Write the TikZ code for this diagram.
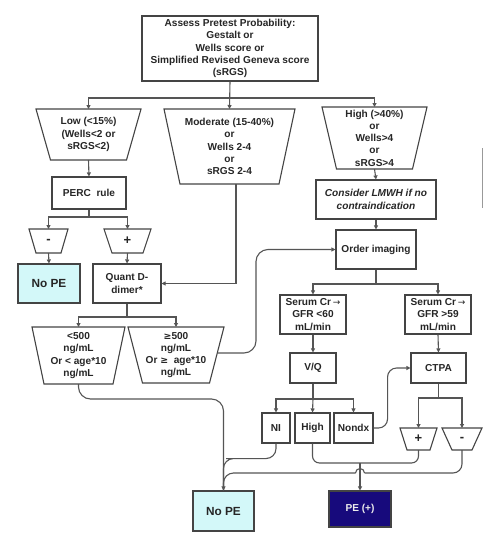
\documentclass[tikz,border=0pt]{standalone}
\usepackage{fontspec}
\setmainfont{Liberation Sans}
\usetikzlibrary{arrows.meta}
\definecolor{ln}{HTML}{555555}
\definecolor{bd}{HTML}{444444}
\definecolor{nopefill}{HTML}{D3F8F9}
\definecolor{pefill}{HTML}{170A7C}
\newcommand\trapz[7]{%
  \draw[bdline] ({#2-#4},#3) -- ({#2+#4},#3) -- ({#2+#5},#6) -- ({#2-#5},#6) -- cycle;
  \coordinate (#1-t) at (#2,#3);
  \coordinate (#1-b) at (#2,#6);
  \node[txt] (#1) at (#2,{(#3+#6)/2}) {#7};
}
\newcommand\mygeq{{\fontspec{DejaVu Sans}\bfseries\fontsize{9.4}{12.3}\selectfont ≥}}
\newcommand\sgn[1]{{\fontsize{13}{13}\selectfont\bfseries #1}}
\tikzset{
  txt/.style={font=\fontsize{10.1}{12.3}\selectfont\bfseries, align=center, text=black!85, inner sep=0pt},
  bdline/.style={draw=bd, line width=1.1pt},
  box/.style={txt, rectangle, draw=bd, line width=1.1pt, inner sep=1pt},
  conn/.style={draw=ln, line width=1.1pt},
  arr/.style={conn, -{Triangle[length=4pt,width=4pt]}},
  bigtxt/.style={font=\fontsize{11.8}{13}\selectfont\bfseries},
}
\begin{document}
\begin{tikzpicture}[x=1pt,y=-1pt]
\useasboundingbox (0,0) rectangle (500,541);
\fill[white] (0,0) rectangle (500,541);

% boxes
\node[box, minimum width=176pt, minimum height=65pt] (top) at (230,48.5)
  {Assess Pretest Probability:\\Gestalt or\\Wells score or\\Simplified Revised Geneva score\\(sRGS)};
\node[box, minimum width=120pt, minimum height=39pt] (lmwh) at (376,199.5)
  {\itshape Consider LMWH if no\\\itshape contraindication};
\node[box, minimum width=80pt, minimum height=39pt] (order) at (376,249.5) {Order imaging};
\node[box, minimum width=66pt, minimum height=39pt] (serL) at (313,314.5) {Serum Cr\,{\fontspec{DejaVu Sans}\mdseries\small →}\\GFR <60\\mL/min};
\node[box, minimum width=66pt, minimum height=39pt] (serR) at (438,314.5) {Serum Cr\,{\fontspec{DejaVu Sans}\mdseries\small →}\\GFR >59\\mL/min};
\node[box, minimum width=46pt, minimum height=30pt] (vq) at (313,368) {V/Q};
\node[box, minimum width=55pt, minimum height=30pt] (ctpa) at (438.5,368) {CTPA};
\node[box, minimum width=28pt, minimum height=30pt] (ni) at (276,428) {NI};
\node[box, minimum width=35pt, minimum height=30pt] (hi) at (312.5,428) {High};
\node[box, minimum width=39pt, minimum height=30pt] (nondx) at (353.5,428) {Nondx};
\node[box, minimum width=74pt, minimum height=32pt] (perc) at (89,193) {PERC\ \ rule};
\node[box, bigtxt, fill=nopefill, minimum width=62pt, minimum height=39pt] (nope1) at (49,283.5) {No PE};
\node[box, minimum width=68pt, minimum height=39pt] (quant) at (127,283.5) {Quant D-\\dimer*};
\node[box, bigtxt, fill=nopefill, minimum width=61pt, minimum height=40pt] (nope2) at (223.5,511) {No PE};
\node[box, fill=pefill, text=white!85!gray, minimum width=62pt, minimum height=36pt] (pe) at (360,509) {PE (+)};

% trapezoids
\trapz{low}{88.5}{109}{52.5}{38}{160}{Low (<15\%)\\(Wells<2 or\\sRGS<2)}
\trapz{mod}{229.5}{109}{65.5}{49.5}{184}{Moderate (15-40\%)\\or\\Wells 2-4\\or\\sRGS 2-4}
\trapz{high}{374.5}{107}{52.5}{38}{169}{High (>40\%)\\or\\Wells>4\\or\\sRGS>4}
\trapz{percm}{48.5}{229}{19.5}{12.5}{253}{\sgn{-}}
\trapz{percp}{127.5}{229}{23.5}{15.5}{253}{\sgn{+}}
\trapz{lt}{78.5}{327}{46.5}{34.5}{384}{<500\\ng/mL\\Or < age*10\\ng/mL}
\trapz{ge}{176}{327}{48}{33.5}{383}{\mygeq500\\ng/mL\\Or \mygeq\ \ age*10\\ng/mL}
\trapz{ctp}{418.5}{428}{18.5}{11.5}{450}{\sgn{+}}
\trapz{ctm}{462}{428}{20}{10}{450}{\sgn{-}}

% junction coordinates
\coordinate (b1) at (230,98);
\coordinate (b2) at (89,217);
\coordinate (b3) at (376,284);
\coordinate (b4) at (313,399);
\coordinate (b5) at (438.5,398);
\coordinate (b6) at (127,317);
\coordinate (modout) at (236,184);
\coordinate (ger) at (217.5,353);
\coordinate (gej) at (256,249.5);
\coordinate (pej) at (360,463);
\coordinate (hopR) at (364.5,473);
\coordinate (hopL) at (355.5,473);
\coordinate (npj) at (223.5,399);

% connectors
\draw[arr] (top.south) -- (mod-t);
\draw[arr] (b1) -| (low-t);
\draw[arr] (b1) -| (high-t);
\draw[arr] (low-b) -- (perc.north);
\draw[conn] (perc.south) -- (b2);
\draw[arr] (b2) -| (percm-t);
\draw[arr] (b2) -| (percp-t);
\draw[arr] (percm-b) -- (nope1.north);
\draw[arr] (percp-b) -- (quant.north);
\draw[arr] (modout) |- (quant.east);
\draw[conn] (quant.south) -- (b6);
\draw[arr] (b6) -| (lt-t);
\draw[arr] (b6) -| (ge-t);
\draw[arr] (high-b) -- (lmwh.north);
\draw[arr] (lmwh.south) -- (order.north);
\draw[conn] (order.south) -- (b3);
\draw[arr] (b3) -| (serL.north);
\draw[arr] (b3) -| (serR.north);
\draw[arr] (serL.south) -- (vq.north);
\draw[arr] (serR.south) -- (ctpa.north);
\draw[conn] (vq.south) -- (b4);
\draw[arr] (b4) -| (ni.north);
\draw[arr] (b4) -- (hi.north);
\draw[arr] (b4) -| (nondx.north);
\draw[arr, rounded corners=9] (nondx.east) -- ++(14,0) |- (ctpa.west);
\draw[conn] (ctpa.south) -- (b5);
\draw[arr] (b5) -| (ctp-t);
\draw[arr] (b5) -| (ctm-t);
\draw[arr, rounded corners=12] (ger) -| (gej) -- (order.west);
\draw[conn, rounded corners=7] (hi.south) |- (pej) -| (ctp-b);
\draw[arr] (pej) -- (pe.north);
\draw[conn, rounded corners=9] (ctm-b) |- (hopR);
\draw[conn] (hopR) arc[start angle=0, end angle=-180, radius=4.5];
\draw[conn, rounded corners=10] (hopL) -| (nope2.north);
\draw[conn, rounded corners=10] (ni.south) |- ++(-40,15) -| (nope2.north);
\draw[arr, rounded corners=12] (lt-b) |- (npj) -- (nope2.north);

% stray scan mark at right margin
\draw[gray!80, line width=1pt] (482,148) -- (482,208);
\end{tikzpicture}
\end{document}
